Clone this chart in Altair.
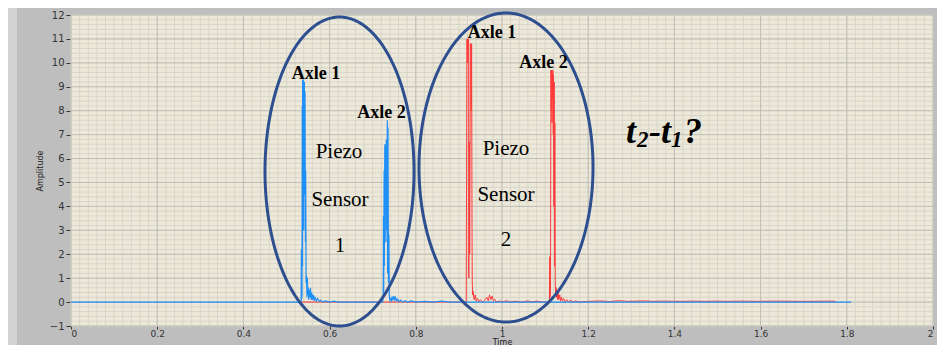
import altair as alt
import pandas as pd
import numpy as np

# ---------------- data ----------------
# Piezo sensor 1 (blue)
blue_t = [0.0, 0.530, 0.534, 0.5345, 0.5350, 0.5360, 0.5365, 0.5370, 0.5375, 0.5385,
          0.5390, 0.5400, 0.5405, 0.5415, 0.5420, 0.5430, 0.5440, 0.5445, 0.5455, 0.5465,
          0.5475, 0.5485, 0.5495, 0.5505, 0.5515, 0.5525, 0.5540, 0.5555, 0.5570, 0.5585,
          0.5600, 0.5620, 0.5640, 0.5660, 0.5690, 0.5720, 0.5760, 0.5800, 0.5850, 0.5900,
          0.6000, 0.6100, 0.6200, 0.7230, 0.7245, 0.7250, 0.7255, 0.7265, 0.7270, 0.7280,
          0.7290, 0.7300, 0.7305, 0.7315, 0.7320, 0.7330, 0.7340, 0.7345, 0.7355, 0.7365,
          0.7375, 0.7385, 0.7395, 0.7410, 0.7430, 0.7450, 0.7470, 0.7490, 0.7510, 0.7530,
          0.7550, 0.7580, 0.7610, 0.7650, 0.7700, 0.7750, 0.7800, 0.7900, 0.8000, 0.8200,
          0.8400, 0.8600, 0.8800, 0.9000, 1.8100]
blue_v = [0.0, 0.0, 0.0, 2.2, 0.1, 0.3, 8.2, 1.5, 9.3, 6.9,
          9.3, 3.0, 8.6, 9.2, 4.5, 8.8, 2.5, 5.5, 0.8, 1.1,
          0.2, 1.0, 0.3, 0.6, 0.1, 0.5, 0.2, 0.6, 0.1, 0.4,
          0.1, 0.3, 0.05, 0.2, 0.05, 0.15, 0.03, 0.08, 0.0, 0.05,
          0.0, 0.04, 0.0, 0.0, 0.3, 3.6, 0.4, 5.5, 1.5, 6.6,
          3.8, 6.5, 2.5, 6.8, 3.0, 5.2, 7.6, 1.2, 7.3, 0.8,
          2.8, 0.3, 0.1, 0.15, 0.05, 0.2, 0.1, 0.25, 0.1, 0.2,
          0.05, 0.12, 0.02, 0.08, 0.0, 0.06, 0.0, 0.05, 0.0, 0.03,
          0.0, 0.04, 0.0, 0.0, 0.0]

# Piezo sensor 2 (red)
red_t = [0.530, 0.9170, 0.9180, 0.9185, 0.9190, 0.9200, 0.9205, 0.9215, 0.9225, 0.9230,
         0.9240, 0.9250, 0.9260, 0.9265, 0.9275, 0.9285, 0.9295, 0.9305, 0.9310, 0.9320,
         0.9330, 0.9350, 0.9380, 0.9400, 0.9430, 0.9460, 0.9500, 0.9550, 0.9600, 0.9650,
         0.9680, 0.9710, 0.9740, 0.9770, 0.9800, 0.9830, 0.9870, 0.9950, 1.0000, 1.0100,
         1.0200, 1.0300, 1.0450, 1.0600, 1.0700, 1.0800, 1.0950, 1.1100, 1.1110, 1.1115,
         1.1125, 1.1135, 1.1145, 1.1150, 1.1160, 1.1165, 1.1175, 1.1180, 1.1190, 1.1195,
         1.1205, 1.1210, 1.1220, 1.1225, 1.1235, 1.1245, 1.1255, 1.1265, 1.1275, 1.1290,
         1.1300, 1.1320, 1.1340, 1.1360, 1.1380, 1.1400, 1.1430, 1.1460, 1.1500, 1.1550,
         1.1600, 1.1650, 1.1700, 1.1800, 1.2000, 1.2300, 1.2500, 1.2700, 1.2900, 1.3100,
         1.3300, 1.3500, 1.3700, 1.4200, 1.4400, 1.4700, 1.5000, 1.5200, 1.5600, 1.5900,
         1.6300, 1.7000, 1.7700, 1.7750]
red_v = [0.0, 0.0, 6.7, 10.9, 11.0, 10.0, 11.0, 10.5, 11.0, 1.0,
         6.7, 2.0, 6.5, 10.8, 10.8, 8.0, 10.8, 3.0, 0.8, 0.3,
         0.45, 0.1, 0.3, 0.05, 0.15, 0.02, 0.1, 0.0, 0.08, 0.2,
         0.05, 0.3, 0.1, 0.25, 0.05, 0.12, 0.0, 0.05, 0.0, 0.06,
         0.0, 0.04, 0.0, 0.05, 0.0, 0.04, 0.0, 0.0, 1.9, 0.2,
         0.5, 9.7, 8.0, 9.7, 7.5, 9.6, 8.5, 9.7, 7.0, 9.5,
         4.0, 9.2, 1.5, 7.5, 0.9, 0.3, 0.6, 0.2, 0.5, 0.1,
         0.4, 0.1, 0.3, 0.05, 0.2, 0.05, 0.15, 0.0, 0.1, 0.02,
         0.08, 0.0, 0.05, 0.0, 0.03, 0.05, 0.02, 0.06, 0.03, 0.04,
         0.05, 0.03, 0.04, 0.03, 0.04, 0.03, 0.04, 0.03, 0.04, 0.03,
         0.04, 0.03, 0.04, 0.0]

x_ticks = [0, 0.2, 0.4, 0.6, 0.8, 1, 1.2, 1.4, 1.6, 1.8, 2]
y_ticks = list(range(-1, 13))
x_minor = [round(i * 0.02, 2) for i in range(101)]
y_minor = [round(-1 + i * 0.2, 1) for i in range(66)]

# annotation ellipses (centre and semi-axes, data units)
ell_cx = [0.623, 1.0093]
ell_cy = [5.457, 5.625]
ell_rx = [0.1729, 0.2019]
ell_ry = [6.459, 6.459]

axle_text = ["Axle 1", "Axle 2", "Axle 1", "Axle 2"]
axle_x = [0.5684, 0.7204, 0.9768, 1.0963]
axle_y = [9.533, 7.903, 11.247, 9.993]

sensor_text = ["Piezo", "Sensor", "1", "Piezo", "Sensor", "2"]
sensor_x = [0.6218, 0.6241, 0.6241, 1.0093, 1.0093, 1.0093]
sensor_y = [6.273, 4.266, 2.343, 6.398, 4.475, 2.594]

# "t2-t1?" pieces (left edges)
q_main_text = ["t", "-t", "?"]
q_main_x = [1.2877, 1.3411, 1.4223]
q_main_y = [6.636, 6.636, 6.636]
q_sub_text = ["2", "1"]
q_sub_x = [1.3132, 1.3921]
q_sub_y = [6.494, 6.494]

# ---------------- tables ----------------
blue = pd.DataFrame({"t": blue_t, "v": blue_v})
red = pd.DataFrame({"t": red_t, "v": red_v})

theta = np.linspace(0, 2 * np.pi, 241)
ell_rows = []
for k in range(len(ell_cx)):
    for i, th in enumerate(theta):
        ell_rows.append({"id": k, "i": i,
                         "t": ell_cx[k] + ell_rx[k] * np.cos(th),
                         "v": ell_cy[k] + ell_ry[k] * np.sin(th)})
ell = pd.DataFrame(ell_rows)

xs = alt.Scale(domain=[0, 2], nice=False, zero=False)
ys = alt.Scale(domain=[-1, 12], nice=False, zero=False)
xaxis = alt.Axis(values=x_ticks, format="~g", grid=False, domain=False, tickSize=3,
                 labelPadding=0, labelFont="DejaVu Sans", labelFontSize=9,
                 labelColor="#333333", tickColor="#333333", title="Time",
                 titleFont="DejaVu Sans", titleFontSize=8, titleFontWeight="normal",
                 titleColor="#222222", titlePadding=0)
yaxis = alt.Axis(values=y_ticks, format="d", grid=False, domain=False, tickSize=5,
                 labelPadding=2, labelFont="DejaVu Sans", labelFontSize=10,
                 labelColor="#333333", tickColor="#333333", title="Amplitude",
                 titleFont="DejaVu Sans", titleFontSize=8, titleFontWeight="normal",
                 titleColor="#222222", titlePadding=5)


def X(f="t"):
    return alt.X(f"{f}:Q", scale=xs, axis=xaxis)


def Y(f="v"):
    return alt.Y(f"{f}:Q", scale=ys, axis=yaxis)


strip = alt.Chart(pd.DataFrame({"a": [0]})).mark_rect(color="#D3D3D3").encode(
    x=alt.value(-64), x2=alt.value(-54), y=alt.value(-9), y2=alt.value(340))

minor_x = alt.Chart(pd.DataFrame({"t": x_minor})).mark_rule(
    color="#D8D5C8", strokeWidth=1).encode(x=X())
minor_y = alt.Chart(pd.DataFrame({"v": y_minor})).mark_rule(
    color="#D8D5C8", strokeWidth=1).encode(y=Y())
major_x = alt.Chart(pd.DataFrame({"t": x_ticks})).mark_rule(
    color="#C0BEB6", strokeWidth=1).encode(x=X())
major_y = alt.Chart(pd.DataFrame({"v": y_ticks})).mark_rule(
    color="#C0BEB6", strokeWidth=1).encode(y=Y())

red_line = alt.Chart(red).mark_line(color="#FF3B3B", strokeWidth=1).encode(x=X(), y=Y())
blue_line = alt.Chart(blue).mark_line(color="#1E8FF7", strokeWidth=1.2).encode(x=X(), y=Y())

ell_line = alt.Chart(ell).mark_line(color="#2D4E8F", strokeWidth=3, clip=False).encode(
    x=X(), y=Y(), detail="id:N", order="i:Q")

axle = alt.Chart(pd.DataFrame({"t": axle_x, "v": axle_y, "s": axle_text})).mark_text(
    font="Liberation Serif", fontSize=18, fontWeight="bold", color="#000000",
    baseline="middle", align="center").encode(x=X(), y=Y(), text="s:N")
sensor = alt.Chart(pd.DataFrame({"t": sensor_x, "v": sensor_y, "s": sensor_text})).mark_text(
    font="Liberation Serif", fontSize=21, color="#000000",
    baseline="middle", align="center").encode(x=X(), y=Y(), text="s:N")
q_main = alt.Chart(pd.DataFrame({"t": q_main_x, "v": q_main_y, "s": q_main_text})).mark_text(
    font="Liberation Serif", fontSize=36, fontWeight="bold", fontStyle="italic",
    color="#000000", baseline="alphabetic", align="left").encode(x=X(), y=Y(), text="s:N")
q_sub = alt.Chart(pd.DataFrame({"t": q_sub_x, "v": q_sub_y, "s": q_sub_text})).mark_text(
    font="Liberation Serif", fontSize=23, fontWeight="bold", fontStyle="italic",
    color="#000000", baseline="alphabetic", align="left").encode(x=X(), y=Y(), text="s:N")

chart = alt.layer(
    strip, minor_x, minor_y, major_x, major_y, red_line, blue_line, ell_line,
    axle, sensor, q_main, q_sub
).properties(
    width=862, height=311,
    autosize=alt.AutoSizeParams(type="none"),
    padding={"left": 63, "top": 7, "right": 4, "bottom": 19},
    background="#BEBEBE",
).configure_view(fill="#EDE9DA", stroke=None)

chart.save("out.html", embed_options={"renderer": "svg", "actions": False})
